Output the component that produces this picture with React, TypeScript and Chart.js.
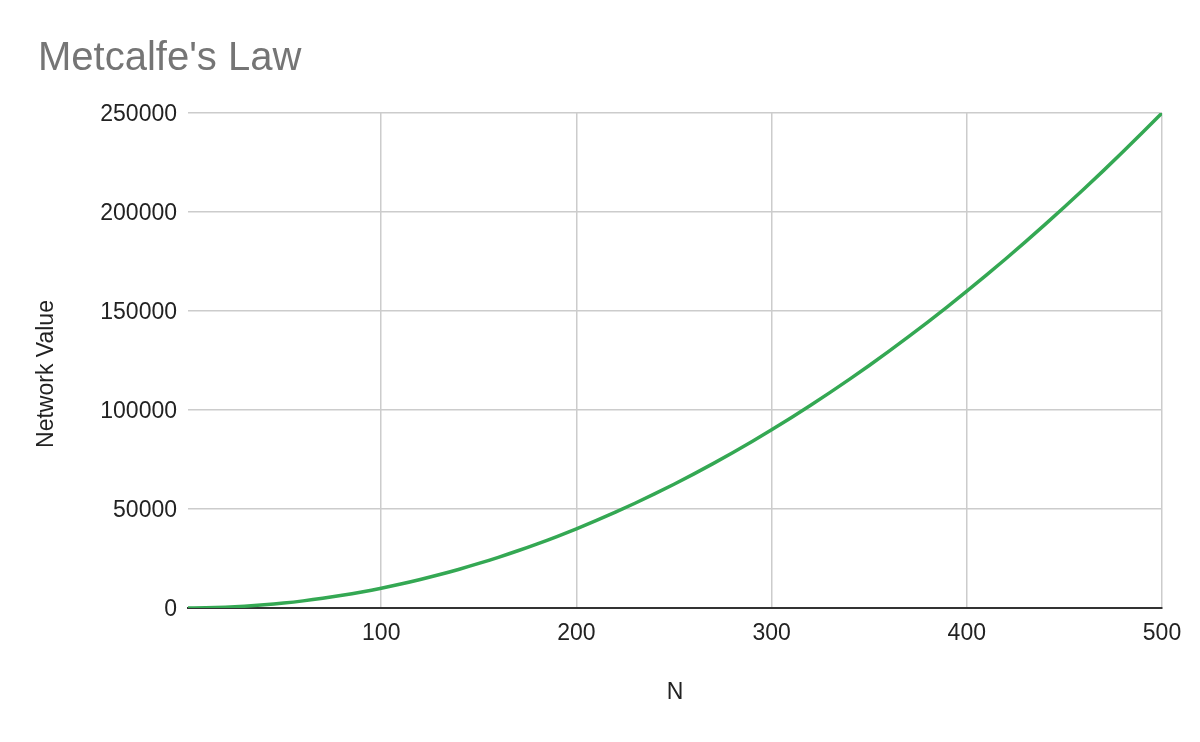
import React, { useEffect, useRef } from "react";
import { Chart, registerables } from "chart.js";

Chart.register(...registerables);

const nValues = [1, 10, 20, 30, 40, 50, 60, 70, 80, 90, 100, 110, 120, 130, 140, 150, 160, 170, 180, 190, 200, 210, 220, 230, 240, 250, 260, 270, 280, 290, 300, 310, 320, 330, 340, 350, 360, 370, 380, 390, 400, 410, 420, 430, 440, 450, 460, 470, 480, 490, 500];
const networkValues = [1, 100, 400, 900, 1600, 2500, 3600, 4900, 6400, 8100, 10000, 12100, 14400, 16900, 19600, 22500, 25600, 28900, 32400, 36100, 40000, 44100, 48400, 52900, 57600, 62500, 67600, 72900, 78400, 84100, 90000, 96100, 102400, 108900, 115600, 122500, 129600, 136900, 144400, 152100, 160000, 168100, 176400, 184900, 193600, 202500, 211600, 220900, 230400, 240100, 250000];
const xTicks = [100, 200, 300, 400, 500];
const yTicks = [0, 50000, 100000, 150000, 200000, 250000];

const FONT = "Arial, 'Liberation Sans', sans-serif";

const textPlugin = {
  id: "extraText",
  afterDraw(chart: any) {
    const ctx = chart.ctx;
    ctx.save();
    ctx.font = `40px ${FONT}`;
    ctx.fillStyle = "#757575";
    ctx.textAlign = "left";
    ctx.textBaseline = "alphabetic";
    ctx.fillText("Metcalfe's Law", 38, 70);
    ctx.restore();

    ctx.save();
    ctx.translate(47, 374);
    ctx.rotate(-Math.PI / 2);
    ctx.font = `23px ${FONT}`;
    ctx.fillStyle = "#222222";
    ctx.textAlign = "center";
    ctx.textBaseline = "middle";
    ctx.fillText("Network Value", 0, 0);
    ctx.restore();
  },
};

export default function App() {
  const ref = useRef<HTMLCanvasElement | null>(null);
  useEffect(() => {
    if (!ref.current) return;
    const chart = new Chart(ref.current, {
      type: "line",
      data: {
        datasets: [
          {
            label: "Network Value",
            data: nValues.map((n, i) => ({ x: n, y: networkValues[i] })),
            borderColor: "#34A853",
            backgroundColor: "#34A853",
            borderWidth: 3.5,
            pointRadius: 0,
            cubicInterpolationMode: "monotone",
            fill: false,
          },
        ],
      },
      options: {
        animation: false,
        responsive: false,
        maintainAspectRatio: false,
        layout: { padding: { top: 113, right: 38, left: 0, bottom: 0 } },
        plugins: {
          legend: { display: false },
          tooltip: { enabled: false },
          title: { display: false },
        },
        scales: {
          x: {
            type: "linear",
            min: 1,
            max: 500,
            afterBuildTicks: (scale: any) => {
              scale.ticks = xTicks.map((v) => ({ value: v }));
            },
            afterFit: (scale: any) => {
              scale.height = 134;
            },
            grid: { color: "#cccccc", lineWidth: 1.5, drawTicks: false },
            border: { display: true, color: "#333333", width: 2 },
            ticks: { font: { family: FONT, size: 23 }, color: "#222222", padding: 12, maxRotation: 0 },
            title: {
              display: true,
              text: "N",
              font: { family: FONT, size: 23 },
              color: "#222222",
              padding: { top: 0, bottom: 36 },
            },
          },
          y: {
            type: "linear",
            min: 0,
            max: 250000,
            afterBuildTicks: (scale: any) => {
              scale.ticks = yTicks.map((v) => ({ value: v }));
            },
            afterFit: (scale: any) => {
              scale.width = 188;
            },
            grid: { color: "#cccccc", lineWidth: 1.5, drawTicks: false },
            border: { display: false },
            ticks: {
              font: { family: FONT, size: 23 },
              color: "#222222",
              padding: 11,
              labelOffset: 2,
              callback: (v: any) => String(v),
            },
            title: { display: false },
          },
        },
      },
      plugins: [textPlugin],
    });
    return () => chart.destroy();
  }, []);
  return (
    <div style={{ position: "fixed", left: 0, top: 0, width: 1200, height: 742, background: "#fff" }}>
      <canvas ref={ref} width={1200} height={742} style={{ width: 1200, height: 742, display: "block" }} />
    </div>
  );
}
